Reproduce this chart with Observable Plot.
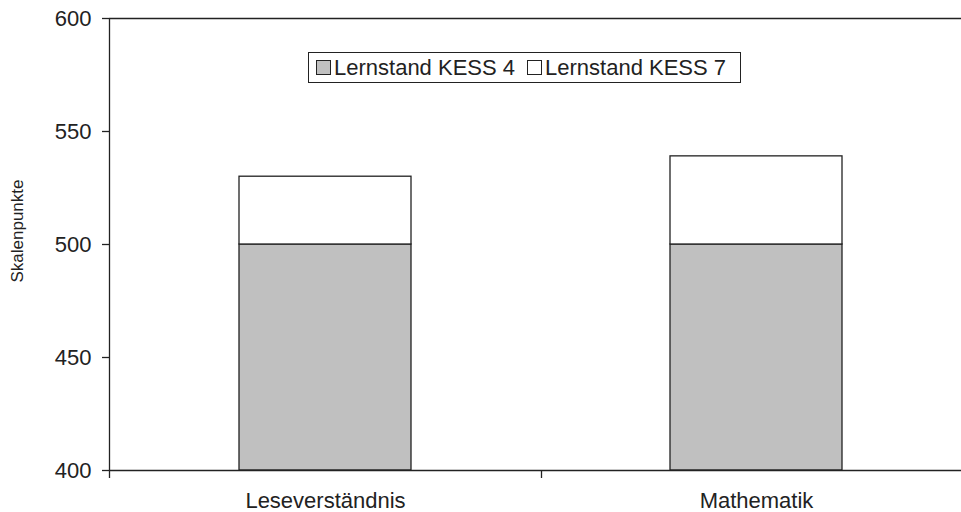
<!DOCTYPE html>
<html>
<head>
<meta charset="utf-8">
<script src="https://cdn.jsdelivr.net/npm/d3@7"></script>
<script src="https://cdn.jsdelivr.net/npm/@observablehq/plot@0.6"></script>
<style>
  html, body { margin: 0; padding: 0; background: #fff; overflow: hidden; }
  #wrap { position: relative; width: 961px; height: 512px; font-family: "Liberation Sans", Arial, sans-serif; }
  #legend {
    position: absolute; left: 308px; top: 52px; height: 29px; width: 431px;
    border: 1.5px solid #222; box-sizing: content-box; background: #fff;
    display: flex; align-items: center; font-size: 22px; color: #222; white-space: nowrap;
  }
  .sw { display: inline-block; width: 13px; height: 13px; border: 1.3px solid #222; margin: 0 3px 0 7px; }
</style>
</head>
<body>
<div id="wrap"></div>
<script>
const categories = ["Leseverständnis", "Mathematik"];
const kess4 = [500, 500];
const kess7 = [530, 539];
const seriesNames = ["Lernstand KESS 4", "Lernstand KESS 7"];
const seriesColors = ["#c0c0c0", "#ffffff"];
const yTicks = [400, 450, 500, 550, 600];
const yLabel = "Skalenpunkte";
const yDomain = [400, 600];

const rows = [];
categories.forEach((c, i) => {
  rows.push({cat: c, series: seriesNames[0], lo: yDomain[0], hi: kess4[i]});
  rows.push({cat: c, series: seriesNames[1], lo: kess4[i], hi: kess7[i]});
});

const W = 961, H = 512, mL = 109, mT = 18, mB = 42;
const font = "Liberation Sans, Arial, sans-serif";

const chart = Plot.plot({
  width: W, height: H,
  marginLeft: mL, marginRight: 0, marginTop: mT, marginBottom: mB,
  style: {fontFamily: font, fontSize: "22px", color: "#222", background: "#fff", overflow: "visible"},
  x: {domain: categories, range: [mL, 972], paddingInner: 0.6, paddingOuter: 0.3},
  y: {domain: yDomain},
  color: {domain: seriesNames, range: seriesColors},
  marks: [
    Plot.barY(rows, {x: "cat", y1: "lo", y2: "hi", fill: "series", stroke: "#222", strokeWidth: 1.3, inset: 0}),
    Plot.ruleY([yDomain[0], yDomain[1]], {stroke: "#222", strokeWidth: 1.3}),
    Plot.axisY({ticks: yTicks, tickSize: 7, tickPadding: 11, label: null, fontSize: 22, stroke: "#222", strokeWidth: 1.3}),
    Plot.axisX({tickSize: 0, tickPadding: 22, label: null, fontSize: 22})
  ]
});

const svg = d3.select(chart);
const xs = chart.scale("x");
const ys = chart.scale("y");
const yBottom = ys.apply(yDomain[0]);
const yTop = ys.apply(yDomain[1]);
// y axis line extending below the baseline
svg.append("line").attr("x1", mL + 0.5).attr("x2", mL + 0.5)
  .attr("y1", yTop + 0.5).attr("y2", yBottom + 8)
  .attr("stroke", "#222").attr("stroke-width", 1.3);
// category boundary ticks
const centers = categories.map(c => xs.apply(c) + xs.bandwidth / 2);
for (let i = 0; i < centers.length - 1; i++) {
  const bx = Math.round((centers[i] + centers[i + 1]) / 2) + 0.5;
  svg.append("line").attr("x1", bx).attr("x2", bx)
    .attr("y1", yBottom + 0.5).attr("y2", yBottom + 8)
    .attr("stroke", "#222").attr("stroke-width", 1.3);
}
// y axis title
svg.append("text").attr("transform", `translate(23,${(yTop + yBottom) / 2 - 13}) rotate(-90)`)
  .attr("text-anchor", "middle")
  .style("font-size", "17px").style("font-family", font)
  .attr("fill", "#222").text(yLabel);

const wrap = document.getElementById("wrap");
wrap.appendChild(chart);

const legend = document.createElement("div");
legend.id = "legend";
seriesNames.forEach((n, i) => {
  const sw = document.createElement("span");
  sw.className = "sw";
  sw.style.background = seriesColors[i];
  if (i > 0) sw.style.marginLeft = "12px";
  legend.appendChild(sw);
  const t = document.createElement("span");
  t.textContent = n;
  legend.appendChild(t);
});
wrap.appendChild(legend);
</script>
</body>
</html>
